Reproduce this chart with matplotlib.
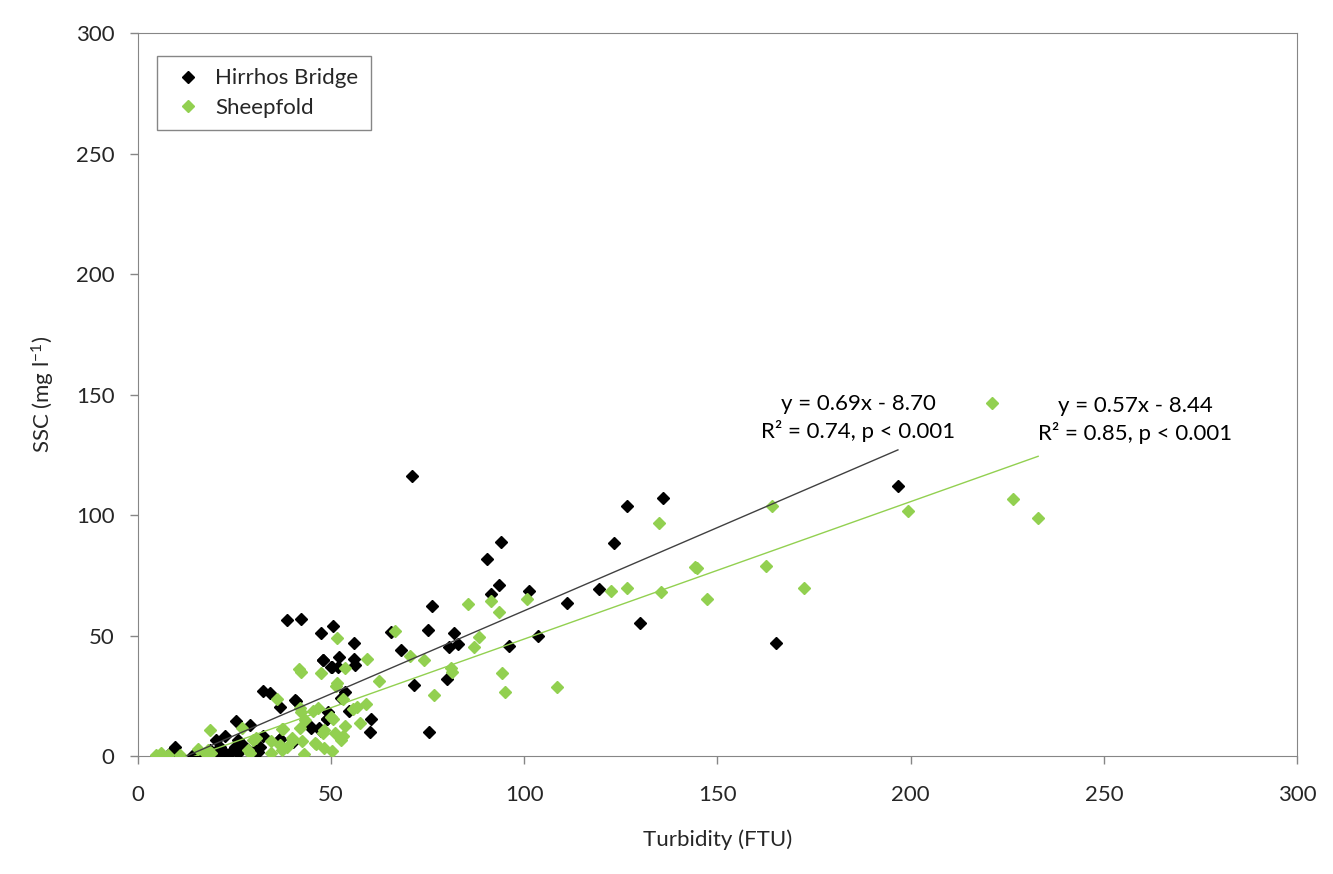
import numpy as np
import matplotlib
matplotlib.use("Agg")
import matplotlib.pyplot as plt

plt.rcParams["font.family"] = ["Lato", "DejaVu Sans"]
plt.rcParams["mathtext.fontset"] = "custom"
plt.rcParams["mathtext.rm"] = "Lato"
plt.rcParams["mathtext.it"] = "Lato:italic"

# Hirrhos Bridge (turbidity FTU, SSC mg/l)
hb_x = [71, 136, 126.6, 196.7, 94, 123.2, 90.3, 93.4, 91.4, 101.2, 119.3, 111.1, 130,
        76.1, 75.1, 65.5, 81.8, 80.5, 82.8, 96, 103.5, 80, 165.2, 71.4,
        38.6, 42.2, 50.5, 47.4, 55.9, 68.1, 52, 47.9, 55.9, 56.2, 50.2, 51.8,
        40.6, 53.6, 52.5, 54.6, 49.2, 48.9, 60.3, 60, 75.3, 44.8, 46.9, 47.4, 40, 36.8,
        32.4, 34.2, 40.9, 36.8, 47.9, 50, 25.4, 29, 44.8, 48.9,
        22.5, 20.2, 25.9, 32.4, 36.8, 9.6, 9.1,
        14.2, 16, 18.6, 20.7, 22.5, 24.1, 25.9, 28.5, 31, 31.6, 25.1, 21.2, 27, 30, 8]
hb_y = [116, 107, 103.7, 112, 88.8, 88.3, 81.7, 71, 67.2, 68.5, 69.3, 63.5, 55.2,
        62.2, 52.3, 51.5, 51, 45.2, 46.5, 45.6, 49.8, 32, 46.9, 29.5,
        56.4, 56.8, 53.9, 51, 46.9, 44, 41.1, 39.8, 40.2, 37.8, 37, 37,
        23.2, 26.6, 24, 18.8, 18.3, 15.4, 15.4, 10, 10, 11.6, 11.6, 10.4, 5.8, 7,
        27, 26, 22.8, 20.3, 39.8, 37, 14.5, 12.9, 12, 15.3,
        8.3, 6.6, 6.6, 8.3, 7, 3.7, 2.1,
        0.4, 0.4, 2.5, 1.2, 1.2, 1.7, 1.2, 2.5, 1.7, 3.7, 3.7, 3.7, 5, 2, 0.8]

# Sheepfold
sf_x = [221, 164.1, 226.5, 233, 199.3, 162.5, 172.4, 147.3, 134.9, 144.2, 144.7,
        122.4, 126.6, 135.4, 85.4, 91.4, 100.7, 93.4, 88.3, 87, 81, 81.3, 94.2, 95, 108.5,
        66.5, 51.5, 70.4, 74, 59.3, 53.6, 41.7, 42.2, 47.4, 51.5, 51.3, 62.4, 76.6, 53,
        56.7, 55.7, 59, 46.6, 45.3, 41.9, 42.2, 50, 50.5, 57.5, 43.2, 37.5, 41.9, 53.6,
        51, 47.9, 53, 52.5, 46.1, 48.1, 50.2, 43, 39.9, 40.1, 42.5, 38.6, 36.8,
        36, 18.6, 26.9, 37.3, 29.8, 30.5, 34.4, 45.8, 37.3, 34.4, 15.5, 17.3, 18.9, 18.1,
        28.5, 29, 4.7, 6, 7.8, 10.9, 48.1]
sf_y = [146.5, 103.7, 106.6, 98.8, 101.7, 78.8, 69.7, 65.1, 96.7, 78.4, 78,
        68.5, 69.7, 68.1, 63.1, 64.3, 65.1, 59.8, 49.4, 45.2, 36.5, 34.9, 34.4, 26.6, 28.6,
        51.9, 48.9, 41.5, 39.8, 40.2, 36.5, 36.1, 34.9, 34.4, 30.3, 29, 31.1, 25.3, 23.7,
        20.3, 19.5, 21.6, 19.9, 18.7, 19.9, 18.3, 16.2, 15.4, 13.7, 14.9, 11.2, 11.6, 12.4,
        9.5, 9.5, 8.3, 6.6, 5, 3.3, 2.1, 0.8, 7.5, 6.6, 6.2, 3.7, 4.6,
        23.7, 10.8, 11.6, 11.2, 6.6, 7.5, 6.2, 5.4, 2.5, 1.2, 2.9, 1.2, 1.2, 2.5,
        2.5, 1.2, 0.4, 1.2, 0.4, 0.4, 10.8]

# fitted lines as printed on the chart
hb_slope, hb_icpt = 0.69, -8.70
sf_slope, sf_icpt = 0.57, -8.44

BLACK = "#000000"
GREEN = "#92D050"
FS = 16

fig = plt.figure(figsize=(13.33, 8.74), dpi=100)
ax = fig.add_axes([0.1035, 0.135, 0.8695, 0.8272])

ax.plot(hb_x, hb_y, "D", color=BLACK, ms=6, mec=BLACK, label="Hirrhos Bridge", zorder=3)
ax.plot(sf_x, sf_y, "D", color=GREEN, ms=6, mec=GREEN, label="Sheepfold", zorder=3)

xl = np.array([min(hb_x), max(hb_x)])
ax.plot(xl, hb_slope * xl + hb_icpt, color="#404040", lw=1, zorder=4)
xl = np.array([min(sf_x), max(sf_x)])
ax.plot(xl, sf_slope * xl + sf_icpt, color=GREEN, lw=1, zorder=4)

ax.text(186.4, 140.2, "y = 0.69x - 8.70\nR² = 0.74, p < 0.001", ha="center", va="center",
        fontsize=FS, linespacing=1.32)
ax.text(258.1, 139.4, "y = 0.57x - 8.44\nR² = 0.85, p < 0.001", ha="center", va="center",
        fontsize=FS, linespacing=1.32)

ax.set_xlim(0, 300)
ax.set_ylim(0, 300)
ax.set_xticks(range(0, 301, 50))
ax.set_yticks(range(0, 301, 50))
ax.tick_params(labelsize=FS, labelcolor="#262626", length=6, width=1, color="#868686")
ax.tick_params(axis="x", pad=15)
ax.tick_params(axis="y", pad=11)
for s in ax.spines.values():
    s.set_color("#868686")
ax.set_xlabel("Turbidity (FTU)", fontsize=FS, color="#262626")
ax.set_ylabel("SSC (mg l$^{-1}$)", fontsize=FS, color="#262626")
ax.xaxis.set_label_coords(0.5, -0.102)
ax.yaxis.set_label_coords(-0.070, 0.5)

leg = ax.legend(loc="upper left", bbox_to_anchor=(0.0164, 0.968), borderaxespad=0,
                fontsize=FS, handletextpad=0.36, handlelength=1.71,
                borderpad=0.55, labelspacing=0.42, fancybox=False, framealpha=1)
leg.get_frame().set_edgecolor("#868686")
for t in leg.get_texts():
    t.set_color("#262626")

fig.savefig("out.png", dpi=100)
